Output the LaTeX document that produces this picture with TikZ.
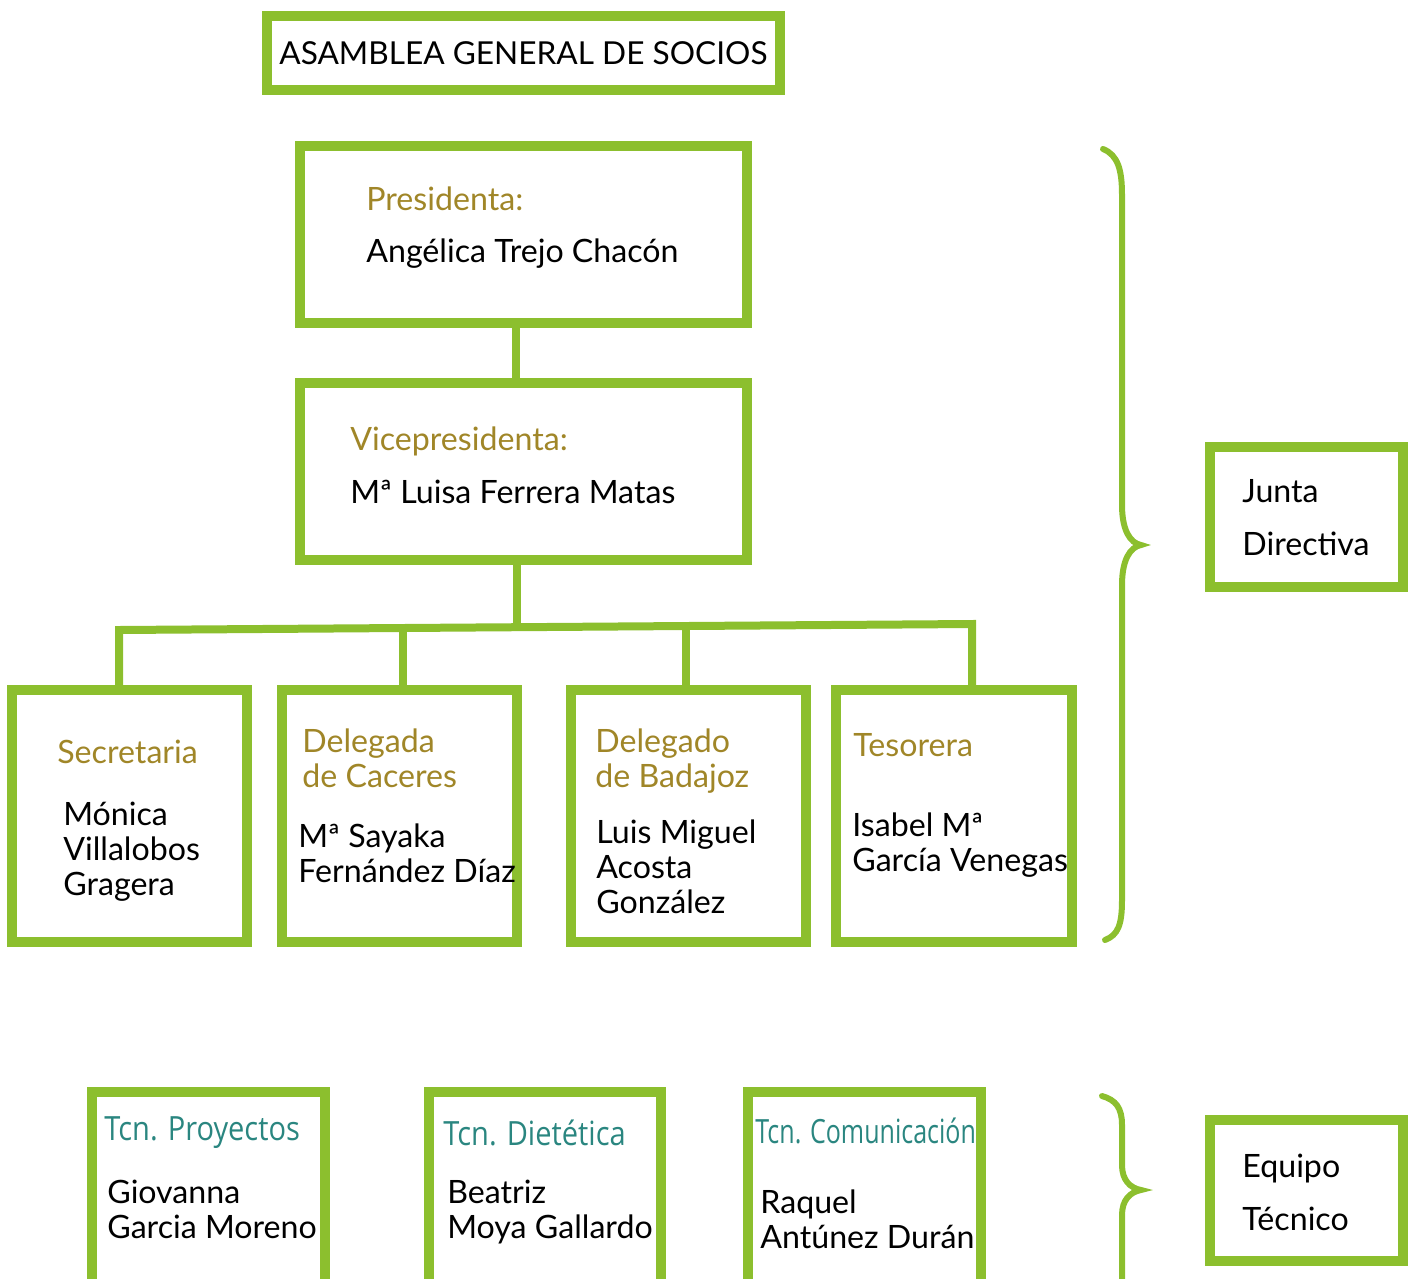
\documentclass[tikz,border=0pt]{standalone}
\usepackage{fontspec}
\setmainfont{Lato}
\newfontfamily\condfont[FakeStretch=0.87]{Open Sans}
\newfontfamily\narrowfont[FakeStretch=0.75]{Open Sans}
\usetikzlibrary{positioning}
\definecolor{leaf}{HTML}{8CBF2E}
\definecolor{ochre}{HTML}{A08628}
\definecolor{tcnteal}{HTML}{2A8680}
\tikzset{
  boxdim/.style 2 args={minimum width=#1*0.02cm, minimum height=#2*0.02cm},
  orgbox/.style={draw=leaf, line width=0.2cm, inner sep=0pt},
  link/.style={draw=leaf, line width=0.16cm, line join=miter},
  bracepen/.style={draw=leaf, line width=0.12cm, line cap=round},
  bodytxt/.style={anchor=base west, align=left, inner sep=0pt, font=\fontsize{18.3}{19.8}\selectfont},
  titletxt/.style={bodytxt, text=ochre},
  tcntxt/.style={anchor=base west, inner sep=0pt, text=tcnteal, font=\condfont\fontsize{19}{20}\selectfont}
}
\begin{document}
\begin{tikzpicture}[x=0.02cm,y=-0.02cm]
        \useasboundingbox (0,0) rectangle (1413,1278);
        \clip (0,0) rectangle (1413,1278);

        % boxes
        \node[orgbox, boxdim={513}{74}] (asam) at (523.5,53) {};
        \node[orgbox, boxdim={447}{177}] (pres) at (523.5,234.5) {};
        \node[orgbox, boxdim={447}{177}] (vice) at (523.5,471.5) {};
        \node[orgbox, boxdim={235}{252}] (sec) at (129.5,816) {};
        \node[orgbox, boxdim={235}{252}] (cac) at (399.5,816) {};
        \node[orgbox, boxdim={235}{252}] (bad) at (688.5,816) {};
        \node[orgbox, boxdim={236}{252}] (tes) at (954,816) {};
        \node[orgbox, boxdim={193}{140}] (junta) at (1306.5,517) {};
        \node[orgbox, boxdim={233}{218}] (pro) at (208.5,1201) {};
        \node[orgbox, boxdim={232}{218}] (die) at (545,1201) {};
        \node[orgbox, boxdim={233}{218}] (com) at (864.5,1201) {};
        \node[orgbox, boxdim={193}{141}] (equipo) at (1306.5,1190.5) {};

        % connectors
        \coordinate (trunk) at (516,0);
        \coordinate (bsec) at (119,630);
        \coordinate (bcac) at (403,629);
        \coordinate (bvice) at (517,627);
        \coordinate (bbad) at (686,626);
        \coordinate (btes) at (972,624);
        \draw[link] (pres.south -| trunk) -- (vice.north -| trunk);
        \draw[link] (sec.north -| bsec) -- (bsec) -- (btes) -- (tes.north -| btes);
        \draw[link] (vice.south -| bvice) -- (bvice);
        \draw[link] (cac.north -| bcac) -- (bcac);
        \draw[link] (bad.north -| bbad) -- (bbad);

        % braces
        \draw[bracepen] (1103,149) .. controls (1118,155) and (1122,170) .. (1122,195)
          -- (1122,505) .. controls (1122,530) and (1130,543) .. (1141,545)
          .. controls (1130,547) and (1122,560) .. (1122,585)
          -- (1122,900) .. controls (1122,925) and (1118,935) .. (1105,940);
        \draw[bracepen] (1102,1096) .. controls (1116,1100) and (1122,1108) .. (1122,1125)
          -- (1122,1165) .. controls (1122,1180) and (1130,1188) .. (1141,1190)
          .. controls (1130,1192) and (1122,1200) .. (1122,1215) -- (1122,1290);

        % texts
        \node[bodytxt, font=\fontsize{18}{19.8}\selectfont] (asamtxt) at (279,64) {ASAMBLEA GENERAL DE SOCIOS};
        \node[titletxt] (prestit) at (366,210) {Presidenta:};
        \node[bodytxt] (presname) at (366,262) {Angélica Trejo Chacón};
        \node[titletxt] (vicetit) at (350,450) {Vicepresidenta:};
        \node[bodytxt] (vicename) at (350,503) {Mª Luisa Ferrera Matas};
        \node[titletxt] (sectit) at (57,763) {Secretaria};
        \node[bodytxt] (secname) at (63,895) {Mónica\\Villalobos\\Gragera};
        \node[titletxt] (cactit) at (302,787) {Delegada\\de Caceres};
        \node[bodytxt] (cacname) at (298,882) {Mª Sayaka\\Fernández Díaz};
        \node[titletxt] (badtit) at (595,787) {Delegado\\de Badajoz};
        \node[bodytxt] (badname) at (596,913) {Luis Miguel\\Acosta\\González};
        \node[titletxt] (testit) at (853,756) {Tesorera};
        \node[bodytxt] (tesname) at (852,871) {Isabel Mª\\García Venegas};
        \node[bodytxt] (juntatxt) at (1242,502) {Junta};
        \node[bodytxt] (juntatxt2) at (1242,555) {Directiva};
        \node[tcntxt] (protit) at (104,1140) {Tcn. Proyectos};
        \node[bodytxt] (proname) at (107,1238) {Giovanna\\Garcia Moreno};
        \node[tcntxt] (dietit) at (443,1145) {Tcn. Dietética};
        \node[bodytxt] (diename) at (447,1238) {Beatriz\\Moya Gallardo};
        \node[tcntxt, font=\narrowfont\fontsize{19}{20}\selectfont] (comtit) at (755,1143) {Tcn. Comunicación};
        \node[bodytxt] (comname) at (760,1248) {Raquel\\Antúnez Durán};
        \node[bodytxt] (equipotxt) at (1242,1177) {Equipo};
        \node[bodytxt] (equipotxt2) at (1242,1230) {Técnico};
      \end{tikzpicture}
\end{document}
